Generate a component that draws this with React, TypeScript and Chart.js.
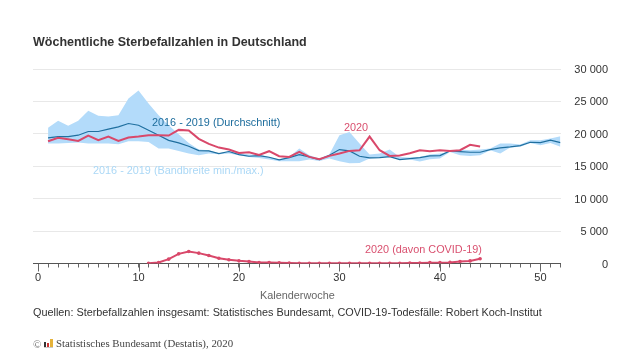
import React, { useEffect, useRef } from "react";
import { Chart, registerables } from "chart.js";

Chart.register(...registerables);

const weeks = [1,2,3,4,5,6,7,8,9,10,11,12,13,14,15,16,17,18,19,20,21,22,23,24,25,26,27,28,29,30,31,32,33,34,35,36,37,38,39,40,41,42,43,44,45,46,47,48,49,50,51,52];
const bandMax = [20920,22000,21230,22000,23550,22780,22670,22880,25450,26690,24680,22880,21330,19950,18600,17575,17470,16960,17370,17100,16800,16800,16440,16030,16440,17730,16700,16180,16850,19790,20300,18500,16800,16960,17575,16440,16340,16440,16800,16960,17210,17575,17470,17575,17730,18500,18500,18350,19020,19020,19270,19640];
const bandMin = [18500,18500,18600,18650,18500,18500,18500,18400,18860,18860,18750,17730,17730,17370,16960,16700,16960,16850,16960,16700,16440,16290,16030,15770,15770,15770,16030,15820,16180,15770,15460,15500,16180,16290,16440,16030,16030,15720,16080,16180,17210,16700,16600,16700,17470,16960,17880,17990,18600,18250,18600,17990];
const average = [19380,19580,19580,19790,20360,20360,20720,21080,21590,21330,20560,19790,19000,18600,18090,17420,17370,16960,17270,16800,16545,16650,16390,15980,16340,16800,16440,16030,16700,17575,17370,16545,16290,16340,16490,16020,16180,16340,16600,16650,17370,17270,17160,17160,17575,17830,17990,18190,18700,18650,19020,18650];
const deaths2020 = [18860,19380,19170,18910,19740,19020,19580,18910,19430,19580,19790,19790,19740,20610,20510,19220,18450,17880,17575,17060,17160,16750,17320,16545,16440,17210,16440,16080,16600,16960,17370,17470,19580,17470,16600,16650,17000,17470,17320,17470,17370,17470,18300,18040];
const covidWeeks = [11,12,13,14,15,16,17,18,19,20,21,22,23,24,25,26,27,28,29,30,31,32,33,34,35,36,37,38,39,40,41,42,43,44];
const covid = [20,150,670,1490,1850,1600,1240,820,570,410,310,160,150,100,60,40,30,30,30,30,30,30,30,40,40,50,60,70,130,130,170,310,400,730];
const xTickValues = [0,1,2,3,4,5,6,7,8,9,10,11,12,13,14,15,16,17,18,19,20,21,22,23,24,25,26,27,28,29,30,31,32,33,34,35,36,37,38,39,40,41,42,43,44,45,46,47,48,49,50,51,52];
const yTicks = [0,5000,10000,15000,20000,25000,30000];
const title = "Wöchentliche Sterbefallzahlen in Deutschland";
const xTitle = "Kalenderwoche";
const sources = "Quellen: Sterbefallzahlen insgesamt: Statistisches Bundesamt, COVID-19-Todesfälle: Robert Koch-Institut";
const copyright = "Statistisches Bundesamt (Destatis), 2020";
const BLUE = "#1f6f9f";
const RED = "#d9486a";
const BAND = "#b3dbfa";
const FONT = "'Liberation Sans', Arial, sans-serif";

const notes = [
  { text: "2016 - 2019 (Durchschnitt)", left: 152, top: 122, color: "#1c6c9c" },
  { text: "2016 - 2019 (Bandbreite min./max.)", left: 93, top: 170, color: "#abd8f6" },
  { text: "2020", left: 344, top: 127, color: "#d9506f" },
  { text: "2020 (davon COVID-19)", left: 365, top: 249, color: "#d9506f" },
];

const pairs = (xs: number[], ys: number[]) => xs.map((x, i) => ({ x, y: ys[i] }));

const majorTicks = {
  id: "majorTicks",
  afterDraw(chart: any) {
    const s = chart.scales.x;
    const c = chart.ctx;
    c.save();
    c.strokeStyle = "#666";
    c.lineWidth = 1;
    for (let v = 0; v <= 50; v += 10) {
      const px = Math.round(s.getPixelForValue(v)) + 0.5;
      c.beginPath();
      c.moveTo(px, s.top);
      c.lineTo(px, s.top + 8);
      c.stroke();
    }
    c.restore();
  },
};

export default function App() {
  const ref = useRef<HTMLCanvasElement>(null);
  useEffect(() => {
    document.body.style.margin = "0";
    const chart = new Chart(ref.current!, {
      type: "line",
      plugins: [majorTicks],
      data: {
        datasets: [
          { data: pairs(weeks, bandMax), borderWidth: 0, pointRadius: 0, backgroundColor: BAND, fill: "+1", order: 5 },
          { data: pairs(weeks, bandMin), borderWidth: 0, pointRadius: 0, fill: false, order: 6 },
          { data: pairs(weeks, average), borderColor: BLUE, borderWidth: 1.2, pointRadius: 0, fill: false, order: 3 },
          { data: pairs(weeks, deaths2020), borderColor: RED, borderWidth: 2, pointRadius: 0, fill: false, order: 2 },
          { data: pairs(covidWeeks, covid), borderColor: RED, backgroundColor: RED, borderWidth: 2, pointRadius: 1.8, pointBorderWidth: 0, fill: false, order: 1 },
        ],
      },
      options: {
        responsive: false,
        animation: false,
        layout: { padding: { left: 33, right: 32, top: 69, bottom: 70 } },
        plugins: { legend: { display: false }, title: { display: false }, tooltip: { enabled: false } },
        scales: {
          x: {
            type: "linear",
            min: -0.5,
            max: 52,
            afterBuildTicks(s: any) { s.ticks = xTickValues.map((value) => ({ value })); },
            afterFit(s: any) { s.height = 26.5; },
            ticks: {
              autoSkip: false,
              maxRotation: 0,
              padding: 4,
              color: "#333",
              font: { family: FONT, size: 11 },
              callback: (v: any) => (Number(v) % 10 === 0 ? String(v) : ""),
            },
            grid: { drawOnChartArea: false, tickLength: 4, tickColor: "#666", tickWidth: 1 },
            border: { color: "#555", width: 1 },
          },
          y: {
            position: "right",
            min: 0,
            max: 30000,
            afterBuildTicks(s: any) { s.ticks = yTicks.map((value) => ({ value })); },
            afterFit(s: any) { s.width = 47.5; },
            ticks: {
              padding: 0,
              labelOffset: 1,
              crossAlign: "far",
              color: "#333",
              font: { family: FONT, size: 11 },
              callback: (v: any) => String(v).replace(/\B(?=(\d{3})+$)/g, " "),
            },
            grid: { color: "#e8e8e8", drawTicks: false },
            border: { display: false },
          },
        },
      },
    } as any);
    return () => chart.destroy();
  }, []);

  const abs = (left: number, top: number, color: string, size = 10.85): React.CSSProperties => ({
    position: "absolute", left, top, color, fontFamily: FONT, fontSize: size, lineHeight: "14px",
    transform: "translateY(-7px)", whiteSpace: "nowrap",
  });

  return (
    <div style={{ position: "relative", width: 640, height: 360, overflow: "hidden", background: "#fff" }}>
      <canvas ref={ref} width={640} height={360} style={{ display: "block" }} />
      <div style={{ ...abs(33, 42, "#333", 12.5), fontWeight: "bold" }}>{title}</div>
      {notes.map((n) => (
        <div key={n.text} style={abs(n.left, n.top, n.color)}>{n.text}</div>
      ))}
      <div style={abs(260, 295, "#666")}>{xTitle}</div>
      <div style={abs(33, 312, "#333")}>{sources}</div>
      <div style={{ ...abs(33, 344, "#777", 11), fontFamily: "'Liberation Serif', serif" }}>©</div>
      <div style={{ position: "absolute", left: 44, top: 339, width: 9, height: 8, display: "flex", alignItems: "flex-end", gap: 1, borderBottom: "1px solid #ccc" }}>
        <span style={{ width: 2, height: 5, background: "#333" }} />
        <span style={{ width: 2, height: 4, background: "#c33" }} />
        <span style={{ width: 3, height: 8, background: "#e5b23a" }} />
      </div>
      <div style={{ ...abs(56, 343, "#444", 10.85), fontFamily: "'Liberation Serif', serif" }}>{copyright}</div>
    </div>
  );
}
